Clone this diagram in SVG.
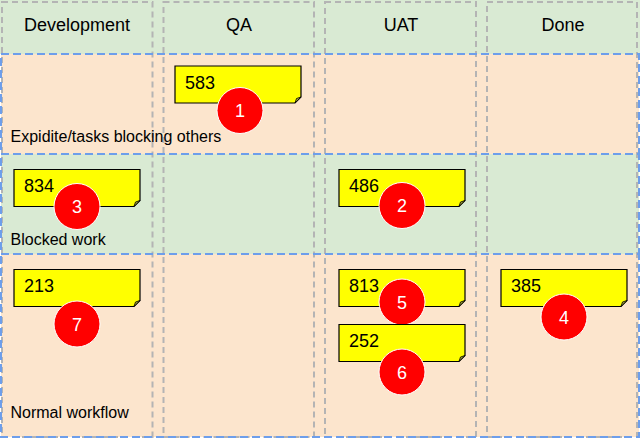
<svg xmlns="http://www.w3.org/2000/svg" width="640" height="440" viewBox="0 0 640 440">
<style>
.lanefill-a{fill:#fce5cd;stroke:none}
.lanefill-b{fill:#d9ead3;stroke:none}
.laneline{fill:none;stroke:#6d9eeb;stroke-width:2;stroke-dasharray:8,4}
.col{fill:none;stroke:#b4b4b4;stroke-width:2;stroke-dasharray:6,4}
.hdr{font-family:"Liberation Sans",Arial,sans-serif;font-size:18px;fill:#000;text-anchor:middle}
.lbl{font-family:"Liberation Sans",Arial,sans-serif;font-size:16px;fill:#000}
.note{fill:#ffff00;stroke:#000;stroke-width:1.2}
.fold{fill:#a8a840;stroke:#000;stroke-width:0.8}
.ntxt{font-family:"Liberation Sans",Arial,sans-serif;font-size:18px;fill:#000}
.dot{fill:#ff0000;stroke:#ffffff;stroke-width:1}
.dtxt{font-family:"Liberation Sans",Arial,sans-serif;font-size:18px;fill:#ffffff;text-anchor:middle}
</style>
<defs>
<g id="sticky">
<path class="note" d="M0,0 H126 V31 L120,37 H0 Z"/>
<path class="fold" d="M126,31 L120,37 L121.5,32.5 Z"/>
</g>
</defs>
<rect x="0" y="0" width="640" height="440" fill="#ffffff"/>
<g id="lanes-fill">
<rect class="lanefill-b" x="0" y="0" width="640" height="54"/>
<rect class="lanefill-a" x="1" y="54" width="638" height="100"/>
<rect class="lanefill-b" x="1" y="154" width="638" height="100"/>
<rect class="lanefill-a" x="1" y="254" width="638" height="183"/>
</g>
<g id="columns">
<g id="col-dev"><rect class="col" x="2" y="2" width="150.5" height="435"/><text class="hdr" x="77" y="31">Development</text></g>
<g id="col-qa"><rect class="col" x="163.5" y="2" width="150.5" height="435"/><text class="hdr" x="239" y="31">QA</text></g>
<g id="col-uat"><rect class="col" x="325" y="2" width="151" height="435"/><text class="hdr" x="401" y="31">UAT</text></g>
<g id="col-done"><rect class="col" x="487" y="2" width="150" height="435"/><text class="hdr" x="563" y="31">Done</text></g>
</g>
<g id="lanes">
<g id="lane-expedite"><rect class="laneline" x="1" y="54" width="638" height="100"/><text class="lbl" x="10.5" y="142">Expidite/tasks blocking others</text></g>
<g id="lane-blocked"><rect class="laneline" x="1" y="154" width="638" height="100"/><text class="lbl" x="10.5" y="244.5">Blocked work</text></g>
<g id="lane-normal"><rect class="laneline" x="1" y="254" width="638" height="183"/><text class="lbl" x="10.5" y="417.5">Normal workflow</text></g>
</g>
<g id="connectors"></g>
<g id="card-583"><use href="#sticky" x="175" y="66"/><text class="ntxt" x="185" y="88.5">583</text></g>
<g id="badge-1"><circle class="dot" cx="240" cy="110.5" r="23"/><text class="dtxt" x="240" y="117">1</text></g>
<g id="card-834"><use href="#sticky" x="14" y="169.5"/><text class="ntxt" x="24" y="192">834</text></g>
<g id="badge-3"><circle class="dot" cx="77" cy="206.5" r="23"/><text class="dtxt" x="77" y="213">3</text></g>
<g id="card-486"><use href="#sticky" x="339" y="169.5"/><text class="ntxt" x="349" y="192">486</text></g>
<g id="badge-2"><circle class="dot" cx="402" cy="205.5" r="23"/><text class="dtxt" x="402" y="212">2</text></g>
<g id="card-213"><use href="#sticky" x="14" y="269.5"/><text class="ntxt" x="24" y="292">213</text></g>
<g id="badge-7"><circle class="dot" cx="77" cy="324" r="23"/><text class="dtxt" x="77" y="330.5">7</text></g>
<g id="card-813"><use href="#sticky" x="339" y="269.5"/><text class="ntxt" x="349" y="292">813</text></g>
<g id="badge-5"><circle class="dot" cx="402" cy="302" r="23"/><text class="dtxt" x="402" y="308.5">5</text></g>
<g id="card-252"><use href="#sticky" x="339" y="324.5"/><text class="ntxt" x="349" y="347">252</text></g>
<g id="badge-6"><circle class="dot" cx="402" cy="372" r="23"/><text class="dtxt" x="402" y="378.5">6</text></g>
<g id="card-385"><use href="#sticky" x="501" y="269.5"/><text class="ntxt" x="511" y="292">385</text></g>
<g id="badge-4"><circle class="dot" cx="564" cy="317" r="23"/><text class="dtxt" x="564" y="323.5">4</text></g>
</svg>
